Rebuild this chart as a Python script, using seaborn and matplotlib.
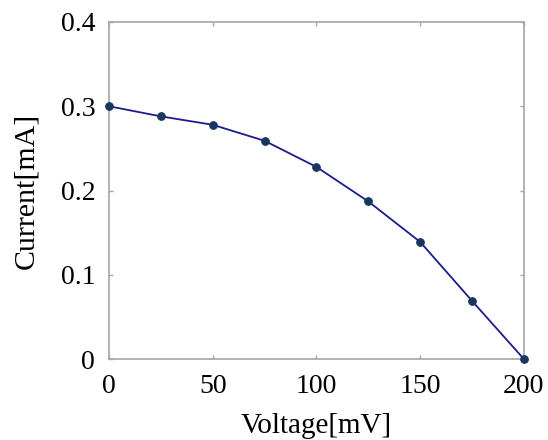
import matplotlib
matplotlib.use("Agg")
import matplotlib.pyplot as plt
import pandas as pd
import seaborn as sns

voltage_mv = [0, 25, 50, 75, 100, 125, 150, 175, 200]
current_ma = [0.300, 0.288, 0.278, 0.259, 0.228, 0.187, 0.139, 0.069, 0.0]
x_ticks = [0, 50, 100, 150, 200]
y_ticks = [0, 0.1, 0.2, 0.3, 0.4]
y_tick_labels = ["0", "0.1", "0.2", "0.3", "0.4"]

sns.set_theme(style="ticks")
plt.rcParams["font.family"] = ["Liberation Serif", "DejaVu Serif"]

df = pd.DataFrame({"voltage": voltage_mv, "current": current_ma})

fig = plt.figure(figsize=(5.48, 4.40), dpi=100)
ax = fig.add_axes([0.199, 0.184, 0.757, 0.766])

sns.lineplot(data=df, x="voltage", y="current", ax=ax, color="#1c1c8c",
             linewidth=1.3, marker="o", markersize=5.5,
             markerfacecolor="#17375e", markeredgecolor="#17375e")
# markers sit on the spines in the original, so don't clip them
for line in ax.get_lines():
    line.set_clip_on(False)
    line.set_zorder(5)

ax.set_xlim(0, 200)
ax.set_ylim(0, 0.4)
ax.set_xticks(x_ticks)
ax.set_yticks(y_ticks)
ax.set_yticklabels(y_tick_labels)
for sp in ax.spines.values():
    sp.set_visible(True)
    sp.set_color("#a6a6a6")
    sp.set_linewidth(1.2)
ax.tick_params(direction="in", length=3, width=1, color="#a6a6a6",
               top=True, right=True, labelsize=20, labelcolor="black")
ax.tick_params(axis="x", pad=11)
ax.tick_params(axis="y", pad=10)
ax.set_xlabel("Voltage[mV]", fontsize=21, color="black", labelpad=10)
ax.set_ylabel("Current[mA]", fontsize=21.5, color="black", labelpad=15)

fig.savefig("out.png", dpi=100)
